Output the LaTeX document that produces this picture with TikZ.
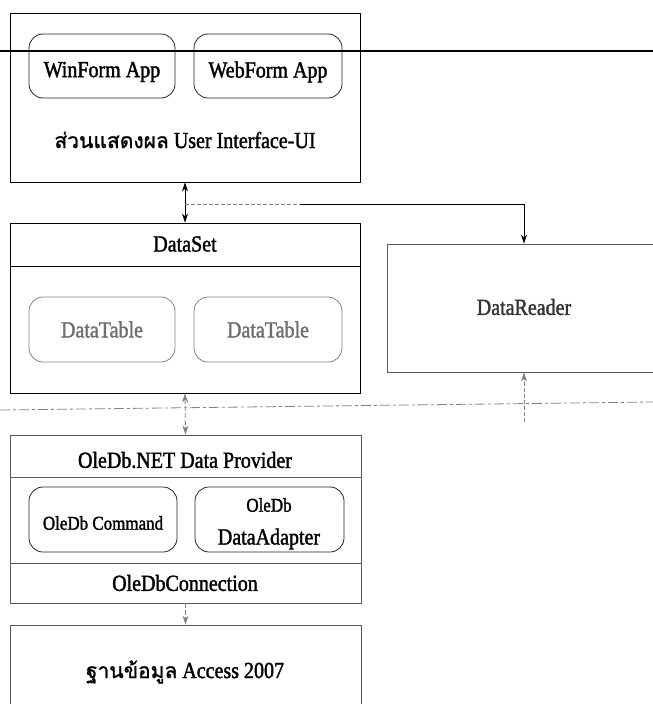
\documentclass[tikz,border=0pt]{standalone}
\usepackage{fontspec}
\setmainfont{Liberation Serif}[FakeStretch=0.87]
\newfontfamily\lblfont{Liberation Serif}[FakeStretch=0.87,FakeBold=1.6]
\newfontfamily\thaifont[Script=Thai,FakeBold=1.2]{Loma}
\usetikzlibrary{arrows.meta}
\definecolor{linegray}{RGB}{90,90,90}
\definecolor{softgray}{RGB}{130,130,130}
\definecolor{txtgray}{RGB}{110,110,110}
\begin{document}
\begin{tikzpicture}[x=1pt,y=-1pt,
  box/.style={draw=black,line width=0.9pt,inner sep=0pt},
  gbox/.style={draw=linegray,line width=0.9pt,inner sep=0pt},
  rbox/.style={draw=black!85,line width=0.8pt,rounded corners=14pt,inner sep=0pt},
  grbox/.style={draw=softgray,line width=0.8pt,rounded corners=14pt,inner sep=0pt,text=txtgray},
  txt/.style={font=\lblfont\fontsize{23}{26}\selectfont,inner sep=0pt},
  stxt/.style={font=\lblfont\fontsize{19.5}{22}\selectfont,inner sep=0pt},
  conn/.style={line width=0.8pt,-{Stealth[length=9pt,width=6pt]}},
  dconn/.style={line width=0.8pt,{Stealth[length=9pt,width=6pt]}-{Stealth[length=9pt,width=6pt]}},
  faint/.style={draw=softgray,dash pattern=on 4pt off 2pt}
]
\useasboundingbox (0,0) rectangle (653,704);
\clip (0,0) rectangle (653,704);

% UI layer
\node[box,minimum width=350pt,minimum height=169pt] (ui) at (185,97.5) {};
\node[rbox,minimum width=146pt,minimum height=64pt] (winb) at (102,66) {};
\node[rbox,minimum width=148pt,minimum height=64pt] (webb) at (268,66) {};
\node[txt] (wint) at (102,72) {WinForm App};
\node[txt] (webt) at (268,72) {WebForm App};
\node[txt] (uit) at (185,140) {{\thaifont\fontsize{21}{24}\selectfont ส่วนแสดงผล} User Interface-UI};

% page edge line
\draw[line width=2.8pt] (0,51) -- (653,51);

% DataSet
\node[box,minimum width=350pt,minimum height=170pt] (ds) at (185,308) {};
\draw[line width=0.9pt] (10,266) -- (360,266);
\node[txt] (dst) at (185,244) {DataSet};
\node[grbox,txt,minimum width=146pt,minimum height=65pt] (dt1) at (102,329.5) {DataTable};
\node[grbox,txt,minimum width=148pt,minimum height=65pt] (dt2) at (268,329.5) {DataTable};

% DataReader
\node[gbox,minimum width=274pt,minimum height=128pt] (dr) at (524,308) {};
\node[txt,text=black!80] (drt) at (524,307) {DataReader};

% Provider
\node[gbox,minimum width=351pt,minimum height=168pt] (pv) at (185.5,519) {};
\draw[draw=linegray,line width=0.9pt] (10,477) -- (361,477);
\draw[draw=linegray,line width=0.9pt] (10,563) -- (361,563);
\node[txt] (pvt) at (185,460) {OleDb.NET Data Provider};
\node[rbox,minimum width=148pt,minimum height=65pt] (cmd) at (103,519.5) {};
\node[stxt] (cmdt) at (103,523) {OleDb Command};
\node[rbox,minimum width=149pt,minimum height=65pt] (adp) at (269.5,519.5) {};
\node[stxt] (adt1) at (269,505) {OleDb};
\node[txt] (adt2) at (269,539) {DataAdapter};
\node[txt] (cnt) at (185,583) {OleDbConnection};

% Database
\node[gbox,minimum width=351pt,minimum height=90pt] (db) at (185.5,670) {};
\node[txt] (dbt) at (185,672) {{\thaifont\fontsize{21}{24}\selectfont ฐานข้อมูล} Access 2007};

% separator
\draw[softgray,line width=0.8pt,dash pattern=on 10pt off 3pt on 3pt off 3pt] (0,410) -- (653,402);

% connectors
\draw[dconn] (ui.south) -- (ds.north);
\coordinate (j) at (185,204);
\coordinate (k) at (300,204);
\draw[faint,line width=0.8pt] (j) -- (k);
\draw[conn] (k) -| (dr.north);
\coordinate (m) at (524,422);
\draw[conn,draw=softgray,fill=softgray,dash pattern=on 4pt off 2pt] (m) -- (dr.south);
\draw[dconn,draw=softgray,dash pattern=on 5pt off 2pt] (ds.south) -- (pv.north);
\draw[conn,draw=softgray,dash pattern=on 5pt off 2pt] (pv.south) -- (db.north);
\end{tikzpicture}
\end{document}
